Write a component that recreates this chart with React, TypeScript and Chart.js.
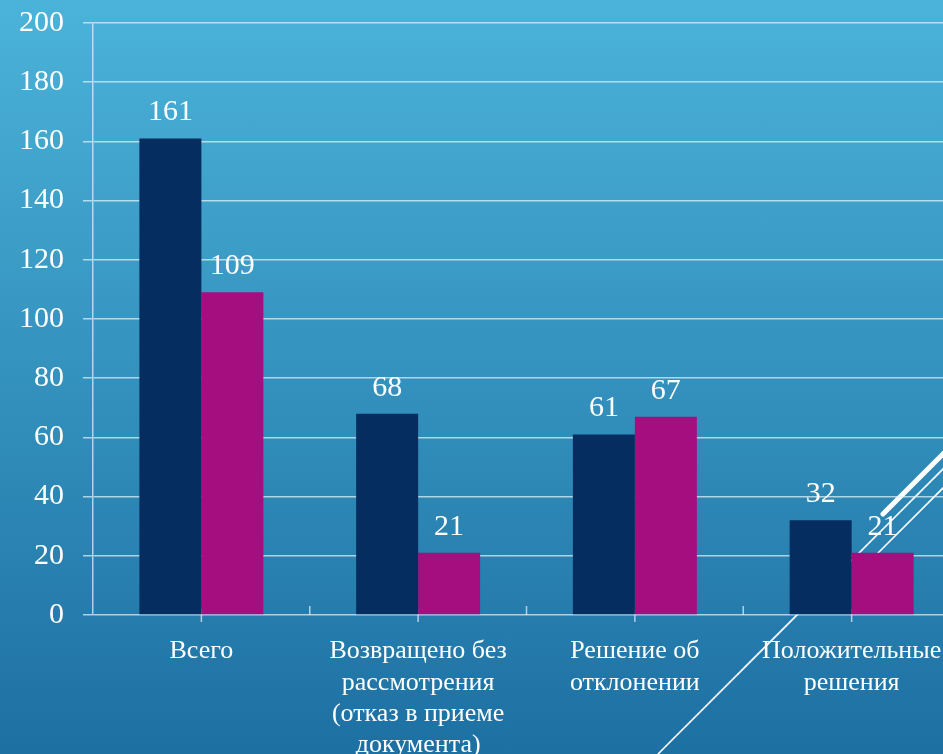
import React, { useEffect, useRef } from "react";
import { Chart, registerables } from "chart.js";

Chart.register(...registerables);

const categories: string[][] = [
  ["Всего"],
  ["Возвращено без", "рассмотрения", "(отказ в приеме", "документа)"],
  ["Решение об", "отклонении"],
  ["Положительные", "решения"],
];
const seriesA: number[] = [161, 68, 61, 32];
const seriesB: number[] = [109, 21, 67, 21];
const yTicks = { min: 0, max: 200, step: 20 };

const FONT = "'Liberation Serif', 'Times New Roman', serif";
const GRID = "rgba(225,242,250,0.72)";

const valueLabels = {
  id: "valueLabels",
  afterDatasetsDraw(chart: any) {
    const ctx = chart.ctx;
    ctx.save();
    ctx.fillStyle = "#ffffff";
    ctx.font = `30px ${FONT}`;
    ctx.textAlign = "center";
    ctx.textBaseline = "alphabetic";
    chart.data.datasets.forEach((ds: any, di: number) => {
      const meta = chart.getDatasetMeta(di);
      meta.data.forEach((el: any, i: number) => {
        ctx.fillText(String(ds.data[i]), el.x, el.y - 18);
      });
    });
    ctx.restore();
  },
};

const xTicks = {
  id: "xTicks",
  beforeDatasetsDraw(chart: any) {
    const ctx = chart.ctx;
    const xs = chart.scales.x;
    const y0 = chart.scales.y.getPixelForValue(0);
    ctx.save();
    ctx.strokeStyle = GRID;
    ctx.lineWidth = 1.5;
    const n = chart.data.labels.length;
    for (let i = 0; i < n; i++) {
      const c = xs.getPixelForValue(i);
      ctx.beginPath();
      ctx.moveTo(c, y0 - 6);
      ctx.lineTo(c, y0 + 7);
      ctx.stroke();
      if (i > 0) {
        const b = (xs.getPixelForValue(i - 1) + c) / 2;
        ctx.beginPath();
        ctx.moveTo(b, y0 - 9);
        ctx.lineTo(b, y0);
        ctx.stroke();
      }
    }
    ctx.restore();
  },
};

export default function App() {
  const ref = useRef<HTMLCanvasElement | null>(null);
  useEffect(() => {
    if (!ref.current) return;
    const chart = new Chart(ref.current, {
      type: "bar",
      data: {
        labels: categories,
        datasets: [
          {
            label: "A",
            data: seriesA,
            backgroundColor: "#062d5f",
            categoryPercentage: 0.572,
            barPercentage: 1,
          },
          {
            label: "B",
            data: seriesB,
            backgroundColor: "#a40e7f",
            categoryPercentage: 0.572,
            barPercentage: 1,
          },
        ],
      },
      options: {
        animation: false,
        responsive: true,
        maintainAspectRatio: false,
        layout: { padding: { top: 23, right: 2, left: 0, bottom: 0 } },
        plugins: { legend: { display: false }, tooltip: { enabled: false } },
        scales: {
          x: {
            grid: { display: false },
            border: { display: false },
            ticks: {
              color: "#ffffff",
              font: { family: FONT, size: 26, lineHeight: 1.2 },
              padding: 13,
              maxRotation: 0,
              autoSkip: false,
            },
            afterFit(scale: any) {
              scale.height = 139;
              scale.paddingLeft = 0;
              scale.paddingRight = 0;
            },
          },
          y: {
            min: yTicks.min,
            max: yTicks.max,
            ticks: {
              stepSize: yTicks.step,
              color: "#ffffff",
              font: { family: FONT, size: 30 },
              padding: 19,
            },
            grid: { color: GRID, lineWidth: 1.5, tickLength: 10, drawTicks: true },
            border: { display: true, color: GRID, width: 1.5 },
            afterFit(scale: any) {
              scale.width = 93;
              scale.paddingTop = 0;
              scale.paddingBottom = 0;
            },
          },
        },
      },
      plugins: [xTicks, valueLabels],
    });
    return () => chart.destroy();
  }, []);

  return (
    <div
      style={{
        position: "fixed",
        left: 0,
        top: 0,
        width: 943,
        height: 754,
        overflow: "hidden",
        background: "linear-gradient(to bottom, #4bb3d9 0%, #1d70a2 100%)",
      }}
    >
      <svg
        width={943}
        height={754}
        style={{ position: "absolute", left: 0, top: 0 }}
      >
        <line x1={658} y1={754} x2={960} y2={452} stroke="#ffffff" strokeWidth={1.6} />
        <line x1={862} y1={569} x2={960} y2={471} stroke="#ffffff" strokeWidth={1.6} />
        <line x1={883} y1={514} x2={960} y2={437} stroke="#ffffff" strokeWidth={5} strokeLinecap="round" />
      </svg>
      <div style={{ position: "absolute", left: 0, top: 0, width: 962, height: 754 }}>
        <canvas ref={ref} />
      </div>
    </div>
  );
}
